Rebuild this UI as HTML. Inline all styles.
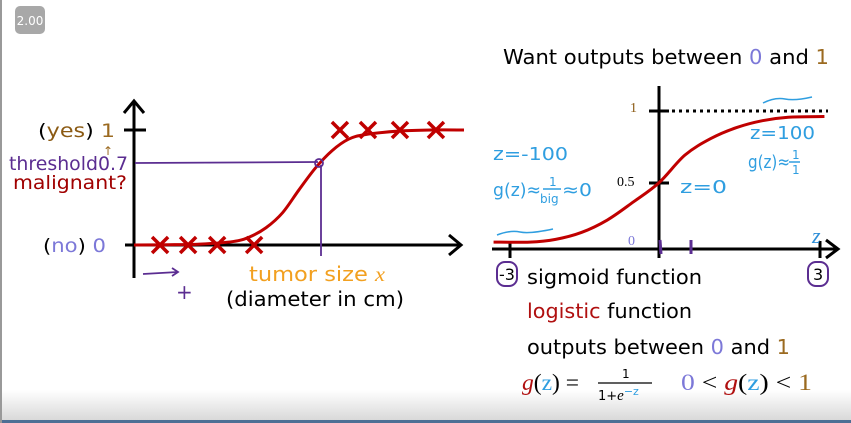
<!DOCTYPE html>
<html><head><meta charset="utf-8">
<style>
html,body{margin:0;padding:0;background:#fff;}
#wrap{position:relative;width:851px;height:423px;overflow:hidden;background:#fff;}
svg text{font-family:"DejaVu Sans","Liberation Sans",sans-serif;}
</style></head>
<body>
<div id="wrap">
<svg id="s" width="851" height="423" viewBox="0 0 851 423" xmlns="http://www.w3.org/2000/svg">
  <defs>
    <linearGradient id="bg" x1="0" y1="0" x2="0" y2="1">
      <stop offset="0" stop-color="#ffffff"/>
      <stop offset="1" stop-color="#d9d9d9"/>
    </linearGradient>
  </defs>
  <rect x="0" y="390" width="851" height="30" fill="url(#bg)"/>
  <rect x="0" y="420" width="851" height="3" fill="#4d6f95"/>
  <rect x="0" y="0" width="2" height="423" fill="#999"/>
  <g>
    <rect x="15" y="6" width="30" height="28" rx="5" fill="#a8a8a8"/>
    <text x="30" y="25" font-size="12" fill="#fff" text-anchor="middle">2.00</text>
  </g>

  <!-- LEFT CHART -->
  <g id="left">
    <line x1="134" y1="102" x2="134" y2="278" stroke="#000" stroke-width="3"/>
    <polyline points="124,113 134,101 144,113" fill="none" stroke="#000" stroke-width="3"/>
    <line x1="125" y1="245" x2="460" y2="245" stroke="#000" stroke-width="3"/>
    <polyline points="449,235 461,245 449,255" fill="none" stroke="#000" stroke-width="3"/>
    <line x1="124" y1="130" x2="146" y2="130" stroke="#000" stroke-width="3"/>
    <line x1="135" y1="163" x2="318" y2="162" stroke="#5b2d91" stroke-width="1.8"/>
    <line x1="321" y1="165" x2="321" y2="256" stroke="#5b2d91" stroke-width="1.8"/>
    <g id="leftMarks"></g>
    <circle cx="319" cy="163" r="4" fill="none" stroke="#5b2d91" stroke-width="1.8"/>
    <text x="38" y="137" font-size="19" textLength="77" lengthAdjust="spacingAndGlyphs"><tspan fill="#000">(</tspan><tspan fill="#8b5a13">yes</tspan><tspan fill="#000">) </tspan><tspan fill="#9b6a20">1</tspan></text>
    <text x="103" y="155" font-size="12" fill="#9b6a20">↑</text>
    <text x="9" y="170" font-size="19" fill="#5b2d91" textLength="119" lengthAdjust="spacingAndGlyphs">threshold0.7</text>
    <text x="13" y="189" font-size="19" fill="#a00000" textLength="114" lengthAdjust="spacingAndGlyphs">malignant?</text>
    <text x="43" y="252" font-size="19" textLength="63" lengthAdjust="spacingAndGlyphs"><tspan fill="#000">(</tspan><tspan fill="#7c78d8">no</tspan><tspan fill="#000">) </tspan><tspan fill="#7c78d8">0</tspan></text>
    <text x="249" y="281" font-size="20" fill="#f2a020" textLength="136" lengthAdjust="spacingAndGlyphs">tumor size <tspan font-family="Liberation Serif" font-style="italic">x</tspan></text>
    <text x="226" y="306" font-size="20" fill="#000" textLength="178" lengthAdjust="spacingAndGlyphs">(diameter in cm)</text>
    <path d="M143,274 Q160,273 178,272" fill="none" stroke="#5b2d91" stroke-width="1.8"/>
    <polyline points="172,268 178,272 172,276" fill="none" stroke="#5b2d91" stroke-width="1.8"/>
    <text x="176" y="299" font-size="20" fill="#5b2d91">+</text>
  </g>

  <!-- RIGHT CHART -->
  <g id="right">
    <text x="503" y="64" font-size="20" textLength="326" lengthAdjust="spacingAndGlyphs"><tspan fill="#000">Want outputs between </tspan><tspan fill="#7c78d8">0</tspan><tspan fill="#000"> and </tspan><tspan fill="#9b6a20">1</tspan></text>
    <line x1="659" y1="86" x2="659" y2="258" stroke="#000" stroke-width="3"/>
    <line x1="492" y1="249" x2="836" y2="249" stroke="#000" stroke-width="3"/>
    <polyline points="826,240 838,249 826,258" fill="none" stroke="#000" stroke-width="3"/>
    <line x1="649" y1="111" x2="669" y2="111" stroke="#000" stroke-width="3"/>
    <line x1="672" y1="111" x2="828" y2="111" stroke="#000" stroke-width="3" stroke-dasharray="3,4"/>
    <line x1="649" y1="183" x2="669" y2="183" stroke="#000" stroke-width="3"/>
    <line x1="510" y1="241" x2="510" y2="258" stroke="#000" stroke-width="3"/>
    <line x1="820" y1="241" x2="820" y2="258" stroke="#000" stroke-width="3"/>
    <line x1="660" y1="240" x2="661" y2="254" stroke="#5b2d91" stroke-width="3"/>
    <line x1="691" y1="240" x2="691" y2="254" stroke="#5b2d91" stroke-width="3"/>
    <g id="rightMarks"></g>
    <text x="630" y="112" font-size="14" fill="#8b5a13" style="font-family:'Liberation Serif',serif">1</text>
    <text x="617" y="186" font-size="14" fill="#000" style="font-family:'Liberation Serif',serif">0.5</text>
    <text x="628" y="245" font-size="14" fill="#7c78d8" style="font-family:'Liberation Serif',serif">0</text>
    <text x="812" y="243" font-size="22" fill="#2f8fd8" style="font-family:'Liberation Serif',serif" font-style="italic">z</text>
    <g fill="#2f9ee0" font-size="18">
      <text x="493" y="160" textLength="75" lengthAdjust="spacingAndGlyphs">z=-100</text>
      <text x="493" y="196" textLength="48" lengthAdjust="spacingAndGlyphs">g(z)≈</text>
      <text x="549" y="186" font-size="12">1</text>
      <line x1="543" y1="189" x2="561" y2="189" stroke="#2f9ee0" stroke-width="1.5"/>
      <text x="540" y="203" font-size="12">big</text>
      <text x="562" y="196" textLength="30" lengthAdjust="spacingAndGlyphs">≈0</text>
      <text x="680" y="193" textLength="47" lengthAdjust="spacingAndGlyphs">z=0</text>
      <text x="750" y="139" textLength="65" lengthAdjust="spacingAndGlyphs">z=100</text>
      <text x="748" y="168" textLength="42" lengthAdjust="spacingAndGlyphs">g(z)≈</text>
      <text x="792" y="159" font-size="12">1</text>
      <line x1="789" y1="162" x2="800" y2="162" stroke="#2f9ee0" stroke-width="1.5"/>
      <text x="792" y="174" font-size="12">1</text>
      <path d="M497,235 Q510,230 520,232 T553,229" fill="none" stroke="#2f9ee0" stroke-width="1.5"/>
      <path d="M763,103 Q775,97 785,99 T812,97" fill="none" stroke="#2f9ee0" stroke-width="1.5"/>
    </g>
    <rect x="497" y="262" width="20" height="24" rx="8" fill="none" stroke="#5b2d91" stroke-width="2"/>
    <text x="499" y="280" font-size="16" fill="#000">-3</text>
    <rect x="808" y="262" width="20" height="24" rx="8" fill="none" stroke="#5b2d91" stroke-width="2"/>
    <text x="813" y="280" font-size="16" fill="#000">3</text>
    <text x="527" y="284" font-size="20" fill="#000" textLength="175" lengthAdjust="spacingAndGlyphs">sigmoid function</text>
    <text x="527" y="318" font-size="20" textLength="165" lengthAdjust="spacingAndGlyphs"><tspan fill="#b01010">logistic</tspan><tspan fill="#000"> function</tspan></text>
    <text x="527" y="354" font-size="20" textLength="263" lengthAdjust="spacingAndGlyphs"><tspan fill="#000">outputs between </tspan><tspan fill="#7c78d8">0</tspan><tspan fill="#000"> and </tspan><tspan fill="#9b6a20">1</tspan></text>
    <g>
      <text x="522" y="390" font-size="23" textLength="57" lengthAdjust="spacingAndGlyphs" style="font-family:'Liberation Serif',serif"><tspan fill="#b01010" font-style="italic">g</tspan><tspan fill="#000">(</tspan><tspan fill="#2f9ee0">z</tspan><tspan fill="#000">) =</tspan></text>
      <text x="622" y="378" font-size="12" fill="#000">1</text>
      <line x1="598" y1="383" x2="652" y2="383" stroke="#000" stroke-width="1.2"/>
      <text x="598" y="400" font-size="13" fill="#000">1+<tspan font-style="italic" style="font-family:'Liberation Serif',serif" font-size="15">e</tspan><tspan fill="#2f9ee0" font-size="11" dy="-5">−z</tspan></text>
      <text x="681" y="390" font-size="23" textLength="131" lengthAdjust="spacingAndGlyphs" style="font-family:'Liberation Serif',serif"><tspan fill="#7c78d8">0</tspan><tspan fill="#000"> &lt; </tspan><tspan fill="#b01010" font-style="italic">g</tspan><tspan fill="#000">(</tspan><tspan fill="#2f9ee0">z</tspan><tspan fill="#000">) &lt; </tspan><tspan fill="#9b6a20">1</tspan></text>
    </g>
  </g>
</svg>
</div>
<script>
// Left chart data (tumor size units 0..10)
const leftCurveX = [0, 1, 2, 3, 3.5, 4, 4.5, 5, 5.5, 6, 6.5, 7, 8, 9, 10];
const leftCurveP = [0, 0.002, 0.008, 0.03, 0.07, 0.15, 0.28, 0.48, 0.67, 0.82, 0.92, 0.96, 0.99, 1, 1];
const benignX = [0.79, 1.64, 2.52, 3.64];
const malignantX = [6.24, 7.09, 8.06, 9.15];
// Right chart data
const sigZ = [-3.2, -2.5, -2, -1.5, -1, -0.5, 0, 0.5, 1, 1.5, 2, 2.5, 3.2];
const sigG = [0.05, 0.05, 0.07, 0.12, 0.21, 0.34, 0.48, 0.68, 0.8, 0.88, 0.93, 0.955, 0.96];

const NS = 'http://www.w3.org/2000/svg';
const lx = v => 134 + v * 33;
const ly = p => 245 - p * 115;
const rx = z => 659 + z * 51.7;
const ry = g => 249 - g * 138;

function smoothPath(pts) {
  let d = 'M' + pts[0][0] + ',' + pts[0][1];
  for (let i = 0; i < pts.length - 1; i++) {
    const p0 = pts[i - 1] || pts[i], p1 = pts[i], p2 = pts[i + 1], p3 = pts[i + 2] || p2;
    const c1 = [p1[0] + (p2[0] - p0[0]) / 6, p1[1] + (p2[1] - p0[1]) / 6];
    const c2 = [p2[0] - (p3[0] - p1[0]) / 6, p2[1] - (p3[1] - p1[1]) / 6];
    d += ' C' + c1[0] + ',' + c1[1] + ' ' + c2[0] + ',' + c2[1] + ' ' + p2[0] + ',' + p2[1];
  }
  return d;
}

const lg = document.getElementById('leftMarks');
const lc = document.createElementNS(NS, 'path');
lc.setAttribute('d', smoothPath(leftCurveX.map((x, i) => [lx(x), ly(leftCurveP[i])])));
lc.setAttribute('fill', 'none');
lc.setAttribute('stroke', '#c00000');
lc.setAttribute('stroke-width', '3');


lg.appendChild(lc);

function cross(parent, cx, cy, name) {
  const g = document.createElementNS(NS, 'path');
  g.setAttribute('d', `M${cx-8},${cy-8} L${cx+8},${cy+8} M${cx+8},${cy-8} L${cx-8},${cy+8}`);
  g.setAttribute('stroke', '#c00000');
  g.setAttribute('stroke-width', '3.5');
  g.setAttribute('fill', 'none');
  
  
  parent.appendChild(g);
}
benignX.forEach(v => cross(lg, lx(v), ly(0), 'benign-cross'));
malignantX.forEach(v => cross(lg, lx(v), ly(1), 'malignant-cross'));

const rg = document.getElementById('rightMarks');
const rc = document.createElementNS(NS, 'path');
rc.setAttribute('d', smoothPath(sigZ.map((z, i) => [rx(z), ry(sigG[i])])));
rc.setAttribute('fill', 'none');
rc.setAttribute('stroke', '#c00000');
rc.setAttribute('stroke-width', '3');


rg.appendChild(rc);
</script>
</body></html>
